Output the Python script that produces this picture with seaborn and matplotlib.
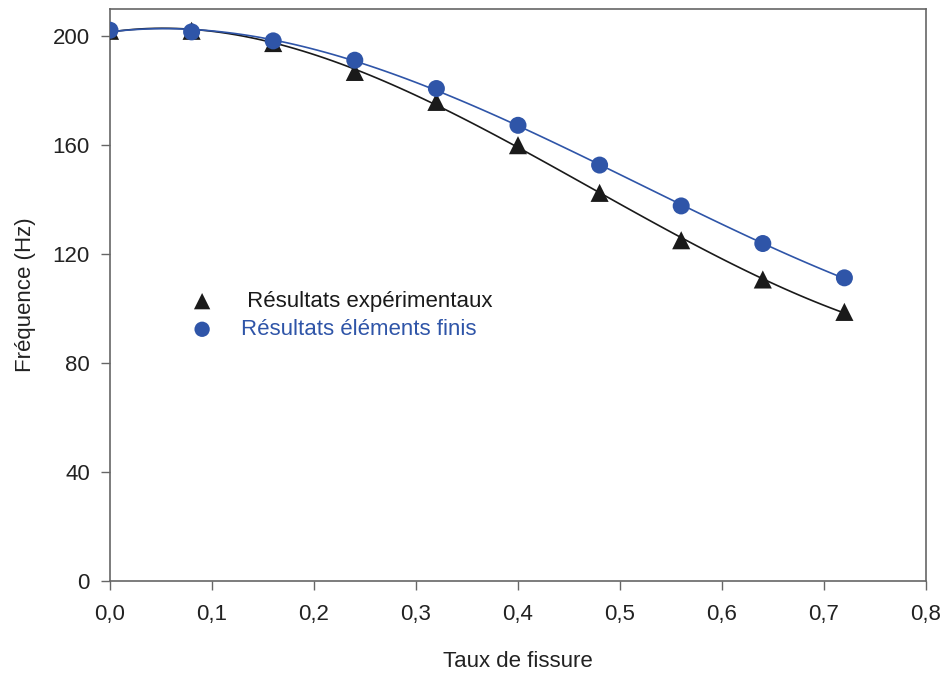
import numpy as np
import pandas as pd
import matplotlib
matplotlib.use("Agg")
import matplotlib.pyplot as plt
import seaborn as sns

# ---- data ----
taux = [0.0, 0.08, 0.16, 0.24, 0.32, 0.40, 0.48, 0.56, 0.64, 0.72]
freq_exp = [202.0, 202.0, 197.5, 186.9, 175.9, 160.0, 142.5, 125.1, 110.7, 98.8]
freq_ef = [202.2, 201.6, 198.3, 191.2, 180.8, 167.3, 152.7, 137.7, 123.9, 111.3]
label_exp = " Résultats expérimentaux"
label_ef = "Résultats éléments finis"
x_ticks = [0.0, 0.1, 0.2, 0.3, 0.4, 0.5, 0.6, 0.7, 0.8]
x_tick_labels = ["0,0", "0,1", "0,2", "0,3", "0,4", "0,5", "0,6", "0,7", "0,8"]
y_ticks = [0, 40, 80, 120, 160, 200]
y_tick_labels = ["0", "40", "80", "120", "160", "200"]
x_label = "Taux de fissure"
y_label = "Fréquence (Hz)"

df = pd.DataFrame({"taux": taux, "exp": freq_exp, "ef": freq_ef})

sns.set_theme(style="ticks")
plt.rcParams["font.family"] = ["Liberation Sans", "DejaVu Sans"]
FS = 16
plt.rcParams["font.size"] = FS

BLACK = "#1a1a1a"
BLUE = "#2f55a8"
GREY = "#666666"
TXT = "#222222"

fig = plt.figure(figsize=(9.46, 6.75), dpi=100)
ax = fig.add_axes([110/946, 1-581/675, (926-110)/946, (581-9)/675])

sns.regplot(data=df, x="taux", y="exp", order=3, ci=None, scatter=False,
            color=BLACK, line_kws=dict(lw=1.2, zorder=2), ax=ax)
sns.regplot(data=df, x="taux", y="ef", order=3, ci=None, scatter=False,
            color=BLUE, line_kws=dict(lw=1.2, zorder=2), ax=ax)
sns.scatterplot(data=df, x="taux", y="exp", marker="^", s=170, color=BLACK,
                edgecolor="none", label=label_exp, zorder=3, ax=ax)
sns.scatterplot(data=df, x="taux", y="ef", marker="o", s=150, color=BLUE,
                edgecolor="none", label=label_ef, zorder=4, ax=ax)

ax.set_xlim(0, 0.8)
ax.set_ylim(0, 210)
ax.set_xticks(x_ticks)
ax.set_xticklabels(x_tick_labels)
ax.set_yticks(y_ticks)
ax.set_yticklabels(y_tick_labels)
ax.tick_params(axis="both", direction="out", length=6.5, width=1.0, color=GREY,
               labelsize=FS, labelcolor=TXT)
ax.tick_params(axis="x", pad=10)
ax.tick_params(axis="y", pad=8)
for s in ax.spines.values():
    s.set_visible(True)
    s.set_color(GREY)
    s.set_linewidth(1.2)

ax.set_xlabel(x_label, fontsize=FS, color=TXT, labelpad=19)
ax.set_ylabel(y_label, fontsize=FS, color=TXT, labelpad=12)

leg = ax.legend(loc="upper left", bbox_to_anchor=(191/946, 1-291/675),
                bbox_transform=fig.transFigure, frameon=False, fontsize=FS,
                handlelength=1.0, handletextpad=1.25, borderpad=0,
                borderaxespad=0, labelspacing=0.32, markerscale=0.9)
for t, c in zip(leg.get_texts(), [BLACK, BLUE]):
    t.set_color(c)

fig.savefig("out.png", dpi=100)
